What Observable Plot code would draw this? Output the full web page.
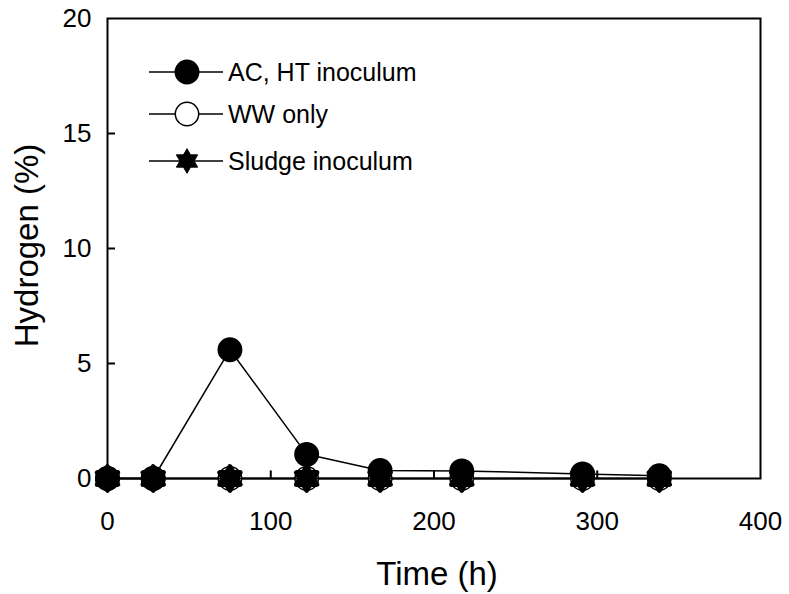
<!DOCTYPE html>
<html><head><meta charset="utf-8">
<script src="https://cdn.jsdelivr.net/npm/d3@7"></script>
<script src="https://cdn.jsdelivr.net/npm/@observablehq/plot@0.6"></script>
<style>
body{margin:0;background:#fff}
#chart svg{font-family: Arial, "Liberation Sans", sans-serif; background:#fff}
</style>
</head><body><div id="chart"></div>
<script>
// ---- data ----
const times = [0, 28, 75, 122, 167, 217, 291, 338];
const acHT = [0, 0, 5.6, 1.05, 0.35, 0.33, 0.2, 0.12];
const wwOnly = [0, 0, 0, 0, 0, 0, 0, 0];
const sludge = [0, 0, 0, 0, 0, 0, 0, 0];
const seriesNames = ["AC, HT inoculum", "WW only", "Sludge inoculum"];
const xTicks = [0, 100, 200, 300, 400];
const yTicks = [0, 5, 10, 15, 20];
const xInnerTicks = [100, 200, 300];
const yInnerTicks = [5, 10, 15];

const toRows = (vals) => times.map((t, i) => ({t, v: vals[i]}));
const acRows = toRows(acHT), wwRows = toRows(wwOnly), slRows = toRows(sludge);

// six-point star symbol
const hexagram = {
  draw(context, size) {
    const R = Math.sqrt(size / Math.PI) * 1.05;
    const r = R / Math.sqrt(3);
    for (let i = 0; i < 12; i++) {
      const a = Math.PI / 6 * i - Math.PI / 2;
      const rad = i % 2 === 0 ? R : r;
      const x = rad * Math.cos(a), y = rad * Math.sin(a);
      if (i === 0) context.moveTo(x, y); else context.lineTo(x, y);
    }
    context.closePath();
  }
};

const W = 789, H = 594;
const chart = Plot.plot({
  width: W, height: H,
  marginLeft: 107, marginTop: 18, marginRight: 29, marginBottom: 116,
  x: {domain: [0, 400]},
  y: {domain: [0, 20]},
  style: {fontFamily: "Arial, 'Liberation Sans', sans-serif"},
  marks: [
    Plot.axisX({ticks: xTicks, tickSize: 0, tickPadding: 33, fontSize: 26, label: null, tickFormat: d => String(d)}),
    Plot.axisY({ticks: yTicks, tickSize: 0, tickPadding: 16, fontSize: 26, label: null, tickFormat: d => String(d)}),
    Plot.ruleY(yInnerTicks, {x1: 0, x2: 4.9, stroke: "black", strokeWidth: 2}),
    Plot.ruleX(xInnerTicks, {y1: 0, y2: 0.33, stroke: "black", strokeWidth: 2}),
    Plot.frame({stroke: "black", strokeWidth: 2}),
    Plot.text(["Time (h)"], {frameAnchor: "bottom", dx: 3, dy: 106, lineAnchor: "bottom", fontSize: 33, fill: "black"}),
    Plot.text(["Hydrogen (%)"], {frameAnchor: "left", dx: -70, dy: -3, rotate: -90, textAnchor: "middle", lineAnchor: "bottom", fontSize: 33, fill: "black"}),
    // WW only
    Plot.line(wwRows, {x: "t", y: "v", stroke: "black", strokeWidth: 1.5}),
    Plot.dot(wwRows, {x: "t", y: "v", r: 11.7, fill: "white", stroke: "black", strokeWidth: 1.5}),
    // AC, HT inoculum
    Plot.line(acRows, {x: "t", y: "v", stroke: "black", strokeWidth: 1.5}),
    Plot.dot(acRows, {x: "t", y: "v", r: 11.7, fill: "black", stroke: "black", strokeWidth: 1.5}),
    // Sludge inoculum
    Plot.line(slRows, {x: "t", y: "v", stroke: "black", strokeWidth: 1.5}),
    Plot.dot(slRows, {x: "t", y: "v", r: 11.2, symbol: hexagram, fill: "black", stroke: "black", strokeWidth: 5, strokeLinejoin: "round"})
  ]
});
document.getElementById("chart").appendChild(chart);

// ---- legend inside the plot ----
const svg = d3.select(chart);
const leg = svg.append("g").attr("class", "legend").attr("text-anchor", "start");
const legY = [72, 114, 161];
const legFill = ["black", "white", "black"];
seriesNames.forEach((name, i) => {
  const g = leg.append("g").attr("transform", `translate(0,${legY[i]})`);
  g.append("line").attr("x1", 149).attr("x2", 223).attr("y1", 0).attr("y2", 0)
    .attr("stroke", "black").attr("stroke-width", 1.5);
  if (i < 2) {
    g.append("circle").attr("cx", 187).attr("cy", 0).attr("r", 11.7)
      .attr("fill", legFill[i]).attr("stroke", "black").attr("stroke-width", 1.5);
  } else {
    g.append("path").attr("transform", "translate(187,0)")
      .attr("d", d3.symbol(hexagram, Math.PI * 11.7 * 11.7)())
      .attr("fill", "black").attr("stroke", "black").attr("stroke-width", 1);
  }
  g.append("text").attr("x", 228).attr("y", 0).attr("dy", "0.35em")
    .attr("text-anchor", "start")
    .attr("font-size", 25).attr("fill", "black").text(name);
});
</script>
</body></html>
